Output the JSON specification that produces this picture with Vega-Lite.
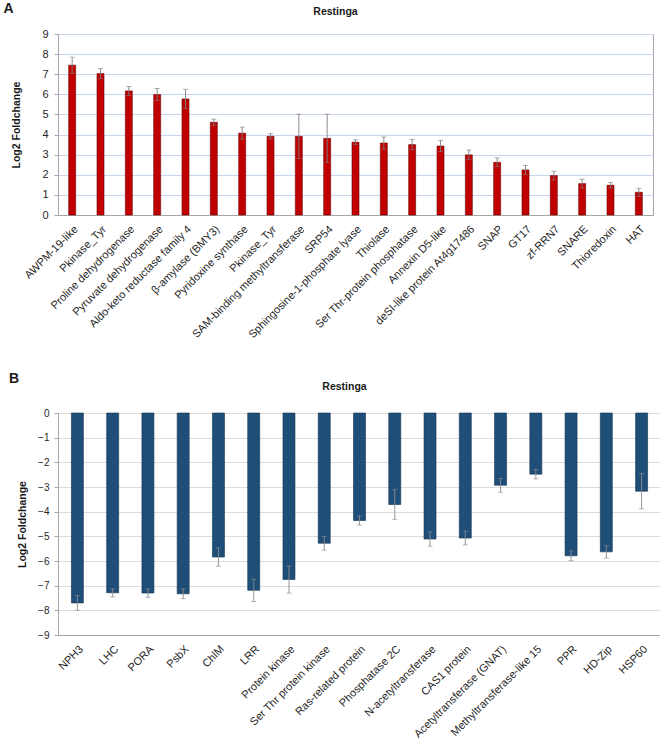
{
  "$schema": "https://vega.github.io/schema/vega-lite/v6.json",
  "padding": {"left": 3, "top": 2, "right": 2, "bottom": 0},
  "spacing": 31,
  "background": "white",
  "config": {
    "font": "Liberation Sans",
    "view": {"stroke": "#a6a6a6", "strokeWidth": 1},
    "axis": {
      "labelFont": "Liberation Sans",
      "titleFont": "Liberation Sans",
      "labelColor": "#262626",
      "titleColor": "#1a1a1a",
      "domainColor": "#a6a6a6",
      "tickColor": "#a6a6a6"
    },
    "title": {"font": "Liberation Sans", "color": "#1a1a1a"}
  },
  "vconcat": [
    {
      "title": {"text": "A", "anchor": "start", "fontSize": 14, "fontWeight": "bold", "offset": -10, "dx": -8},
      "vconcat": [
        {
          "title": {"text": "Restinga", "fontSize": 10.5, "fontWeight": "bold", "offset": 11, "anchor": "middle", "frame": "group", "dx": -20},
          "width": 595,
          "height": 181,
          "data": {"values": [
            {"gene": "AWPM-19-like", "value": 7.45, "err": 0.4},
            {"gene": "Pkinase_Tyr", "value": 7.03, "err": 0.25},
            {"gene": "Proline dehydrogenase", "value": 6.17, "err": 0.22},
            {"gene": "Pyruvate dehydrogenase", "value": 5.99, "err": 0.3},
            {"gene": "Aldo-keto reductase family 4", "value": 5.77, "err": 0.48},
            {"gene": "β-amylase (BMY3)", "value": 4.61, "err": 0.15},
            {"gene": "Pyridoxine synthase", "value": 4.07, "err": 0.3},
            {"gene": "Pkinase_Tyr\u200b", "value": 3.91, "err": 0.13},
            {"gene": "SAM-binding methyltransferase", "value": 3.91, "err": 1.1},
            {"gene": "SRP54", "value": 3.81, "err": 1.2},
            {"gene": "Sphingosine-1-phosphate lyase", "value": 3.62, "err": 0.12},
            {"gene": "Thiolase", "value": 3.58, "err": 0.3},
            {"gene": "Ser Thr-protein phosphatase", "value": 3.5, "err": 0.26},
            {"gene": "Annexin D5-like", "value": 3.43, "err": 0.28},
            {"gene": "deSI-like protein At4g17486", "value": 2.99, "err": 0.24},
            {"gene": "SNAP", "value": 2.62, "err": 0.22},
            {"gene": "GT17", "value": 2.24, "err": 0.22},
            {"gene": "zf-RRN7", "value": 1.96, "err": 0.22},
            {"gene": "SNARE", "value": 1.56, "err": 0.22},
            {"gene": "Thioredoxin", "value": 1.48, "err": 0.14},
            {"gene": "HAT", "value": 1.13, "err": 0.2}
          ]},
          "encoding": {
            "x": {
              "field": "gene", "type": "nominal", "sort": null,
              "scale": {"paddingInner": 0, "paddingOuter": 0},
              "axis": {"title": null, "labelAngle": -45, "labelFontSize": 11, "ticks": false, "labelPadding": 8, "labelLimit": 300}
            },
            "y": {
              "field": "value", "type": "quantitative",
              "scale": {"domain": [0, 9], "nice": false},
              "axis": {"title": "Log2 Foldchange", "titleFontSize": 10.5, "titleFontWeight": "bold", "titlePadding": 20, "labelFontSize": 11, "tickCount": 9, "tickSize": 4, "labelPadding": 6, "gridColor": "#c8d5ef", "gridOpacity": 1}
            }
          },
          "layer": [
            {"mark": {"type": "bar", "size": 7, "color": "#c00000", "stroke": "#6e0000", "strokeWidth": 0.6}},
            {"mark": {"type": "errorbar", "ticks": true, "size": 5, "color": "#7f7f7f", "thickness": 0.9},
             "encoding": {"yError": {"field": "err"}}}
          ]
        }
      ]
    },
    {
      "title": {"text": "B", "anchor": "start", "fontSize": 14, "fontWeight": "bold", "offset": -5, "dx": -8},
      "vconcat": [
        {
          "title": {"text": "Restinga", "fontSize": 10.5, "fontWeight": "bold", "offset": 16, "anchor": "middle", "frame": "group", "dx": -15},
          "width": 603,
          "height": 222,
          "data": {"values": [
            {"gene": "NPH3", "value": -7.7, "err": 0.3},
            {"gene": "LHC", "value": -7.29, "err": 0.16},
            {"gene": "PORA", "value": -7.3, "err": 0.17},
            {"gene": "PsbX", "value": -7.33, "err": 0.2},
            {"gene": "ChlM", "value": -5.84, "err": 0.37},
            {"gene": "LRR", "value": -7.19, "err": 0.45},
            {"gene": "Protein kinase", "value": -6.75, "err": 0.55},
            {"gene": "Ser Thr protein kinase", "value": -5.28, "err": 0.28},
            {"gene": "Ras-related protein", "value": -4.36, "err": 0.18},
            {"gene": "Phosphatase 2C", "value": -3.71, "err": 0.6},
            {"gene": "N-acetyltransferase", "value": -5.11, "err": 0.29},
            {"gene": "CAS1  protein", "value": -5.07, "err": 0.28},
            {"gene": "Acetyltransferase (GNAT)", "value": -2.93, "err": 0.28},
            {"gene": "Methyltransferase-like 15", "value": -2.48, "err": 0.19},
            {"gene": "PPR", "value": -5.79, "err": 0.2},
            {"gene": "HD-Zip", "value": -5.63, "err": 0.25},
            {"gene": "HSP60", "value": -3.17, "err": 0.72}
          ]},
          "encoding": {
            "x": {
              "field": "gene", "type": "nominal", "sort": null,
              "scale": {"paddingInner": 0, "paddingOuter": 0.05},
              "axis": {"title": null, "labelAngle": -45, "labelFontSize": 11, "ticks": false, "labelPadding": 8, "labelLimit": 300}
            },
            "y": {
              "field": "value", "type": "quantitative",
              "scale": {"domain": [-9, 0], "nice": false},
              "axis": {"title": "Log2 Foldchange", "titleFontSize": 10.5, "titleFontWeight": "bold", "titlePadding": 10, "labelFontSize": 10, "tickCount": 9, "tickSize": 4, "labelPadding": 5, "gridColor": "#dcdcdc", "gridOpacity": 1}
            }
          },
          "layer": [
            {"mark": {"type": "bar", "size": 12, "color": "#1f4e79", "stroke": "#13324f", "strokeWidth": 0.6}},
            {"mark": {"type": "errorbar", "ticks": true, "size": 5, "color": "#8c8c8c", "thickness": 0.9},
             "encoding": {"yError": {"field": "err"}}}
          ]
        }
      ]
    }
  ]
}
